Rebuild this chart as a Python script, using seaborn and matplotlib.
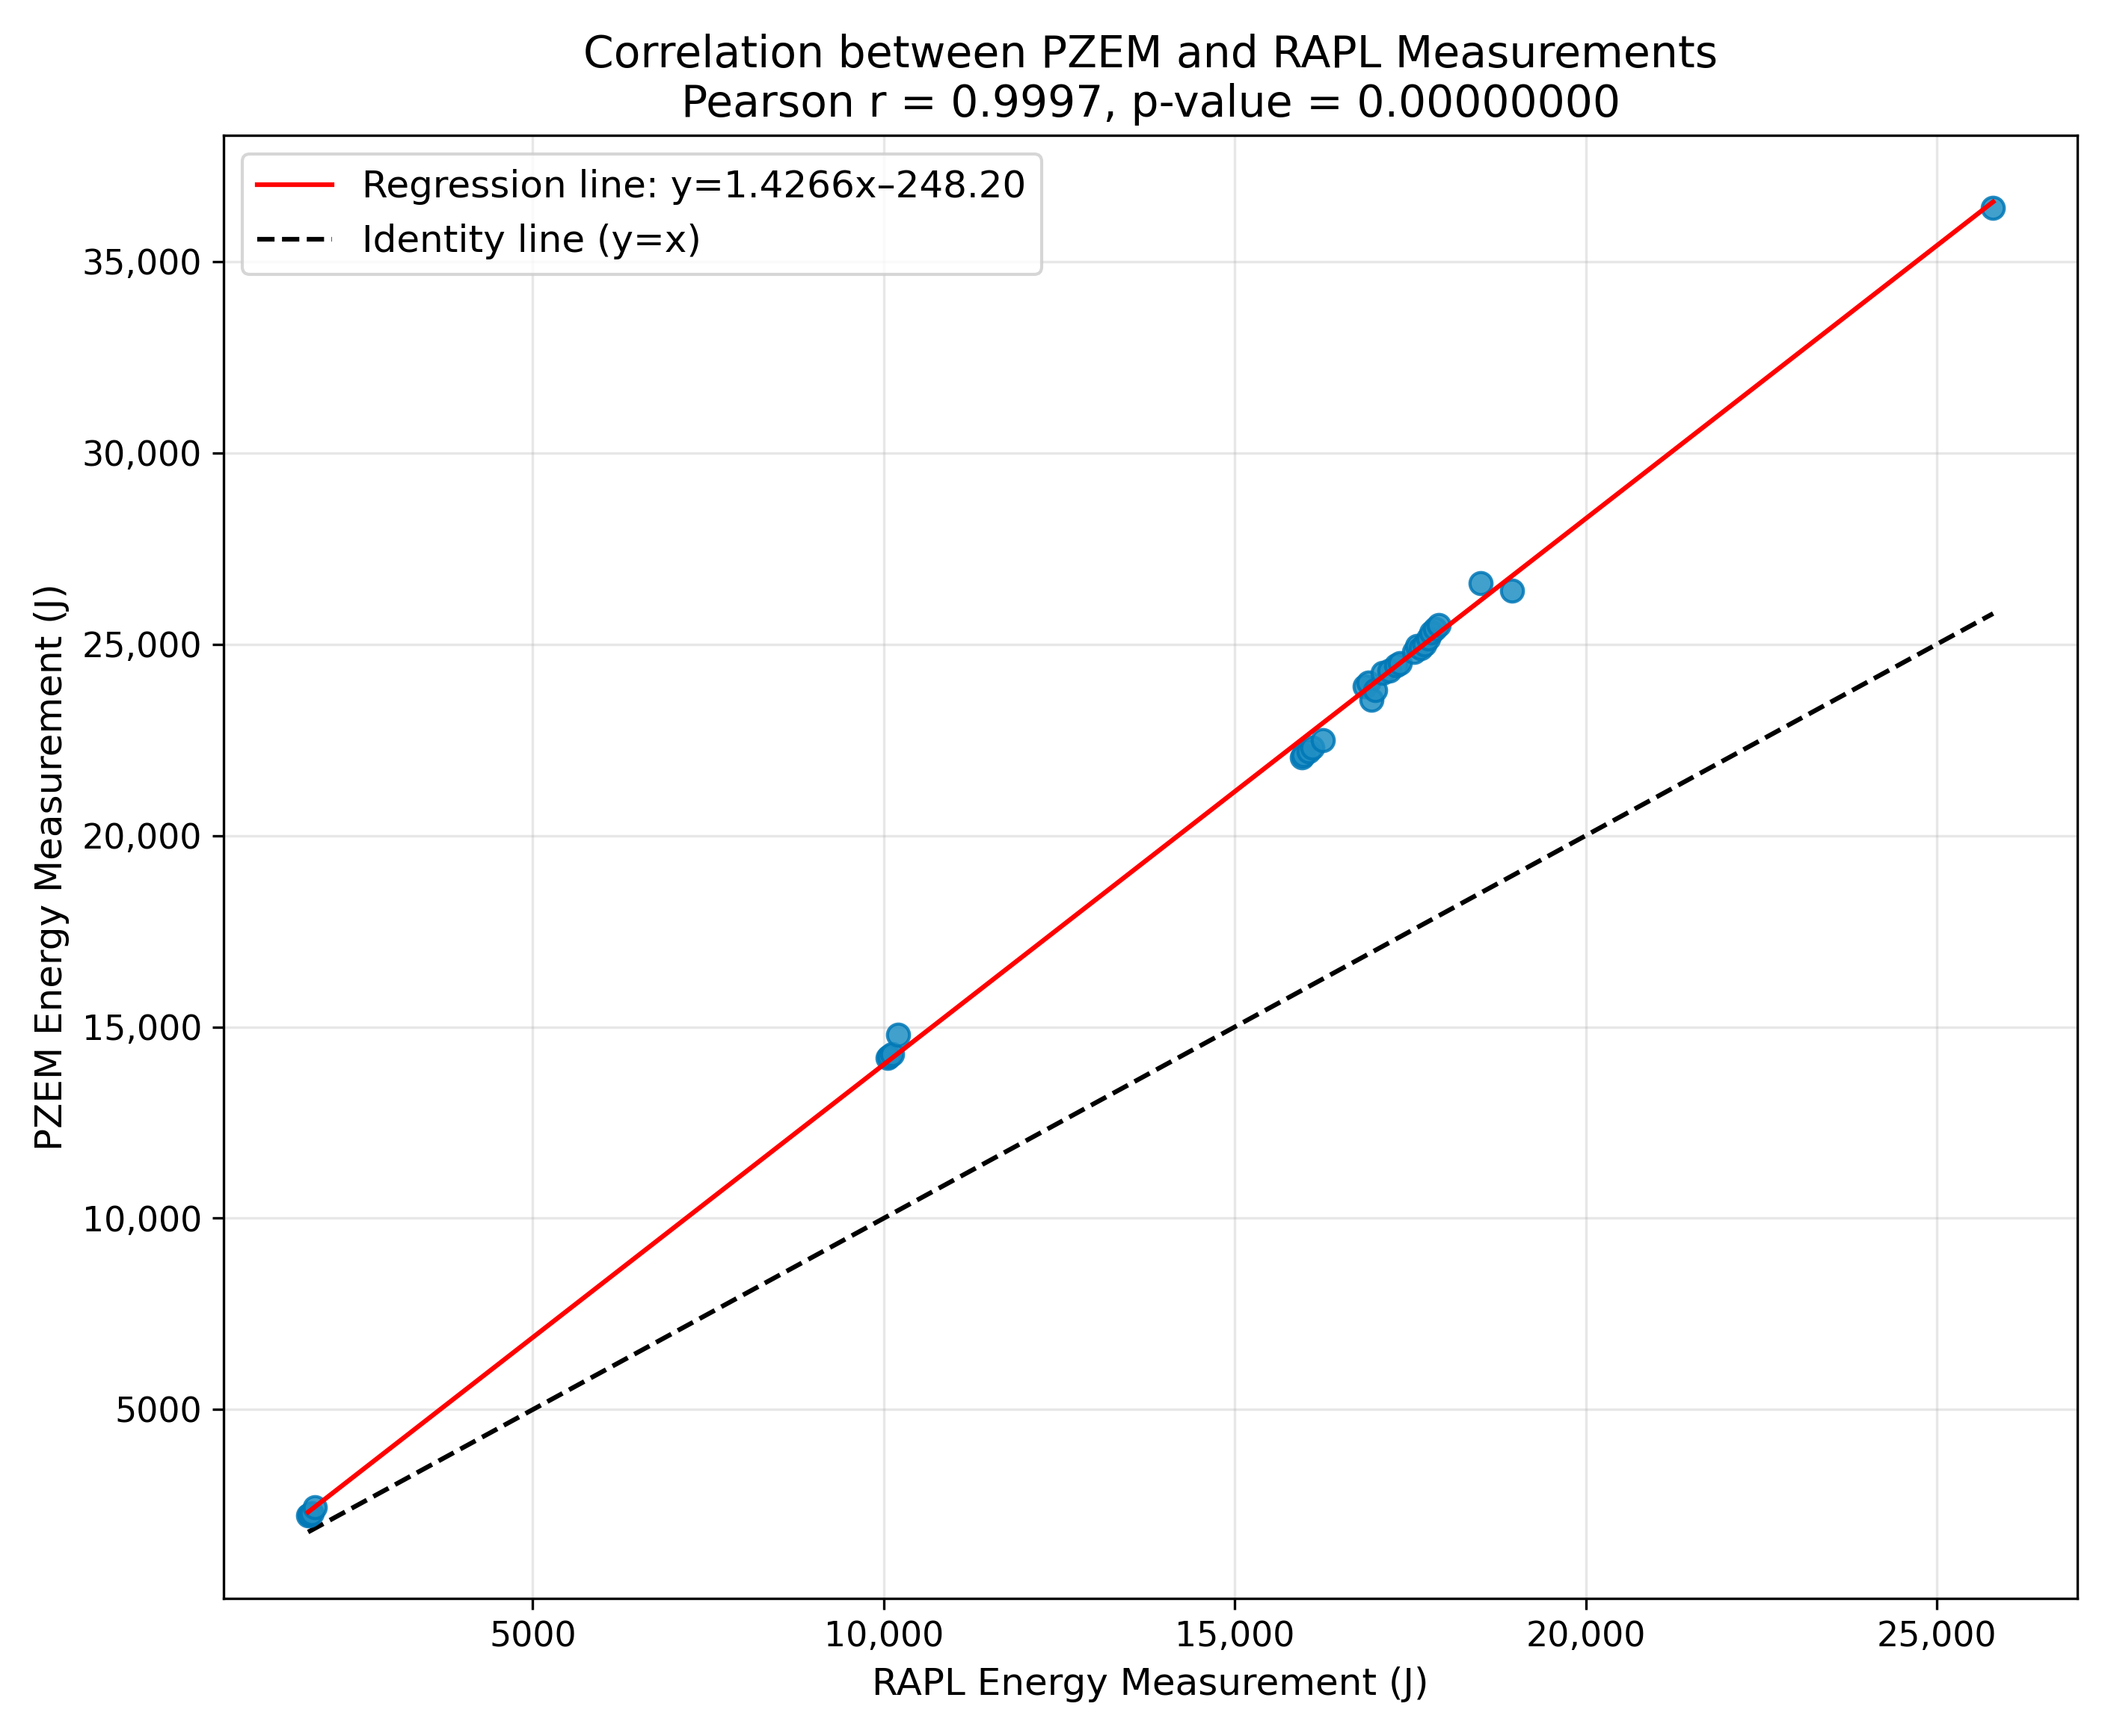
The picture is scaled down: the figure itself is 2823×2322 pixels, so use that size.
import matplotlib
matplotlib.use("Agg")
import matplotlib.pyplot as plt
import matplotlib.ticker as mticker
import seaborn as sns
import numpy as np
import pandas as pd

rapl = [1800, 1820, 1850, 1900, 10050, 10080, 10120, 10200,
        15950, 15980, 16050, 16100, 16250,
        16850, 16900, 16950, 17000, 17100, 17200, 17300, 17350, 17550, 17600,
        17650, 17700, 17750, 17800, 17850, 17900,
        18500, 18950, 25800]
pzem = [2230, 2260, 2300, 2450, 14180, 14220, 14280, 14800,
        22050, 22100, 22200, 22300, 22500,
        23900, 24000, 23550, 23800, 24250, 24300, 24450, 24500, 24800, 24950,
        24900, 25000, 25150, 25300, 25400, 25500,
        26600, 26400, 36400]
slope, intercept = 1.4266, -248.20

df = pd.DataFrame({"RAPL": rapl, "PZEM": pzem})
fig, ax = plt.subplots(figsize=(9.41, 7.74), dpi=300)
sns.scatterplot(data=df, x="RAPL", y="PZEM", ax=ax, color="#1f8fc4", edgecolor="#0077b6",
                linewidth=1, s=50, alpha=0.85, zorder=3)
xs = np.array([min(rapl), max(rapl)])
ax.plot(xs, slope * xs + intercept, color="red", lw=1.5,
        label="Regression line: y=1.4266x\u2013248.20", zorder=4)
ax.plot(xs, xs, "k--", lw=1.5, label="Identity line (y=x)")
ax.grid(True, alpha=0.3)
fmt = mticker.FuncFormatter(lambda v, p: f"{int(v):,}" if v >= 10000 else f"{int(v)}")
ax.xaxis.set_major_formatter(fmt)
ax.yaxis.set_major_formatter(fmt)
ax.tick_params(labelsize=11)
ax.set_xlabel("RAPL Energy Measurement (J)", fontsize=12)
ax.set_ylabel("PZEM Energy Measurement (J)", fontsize=12)
ax.set_title("Correlation between PZEM and RAPL Measurements\nPearson r = 0.9997, p-value = 0.00000000", fontsize=14)
ax.legend(loc="upper left", fontsize=12)
plt.tight_layout()
fig.savefig("out.png", dpi=300)
